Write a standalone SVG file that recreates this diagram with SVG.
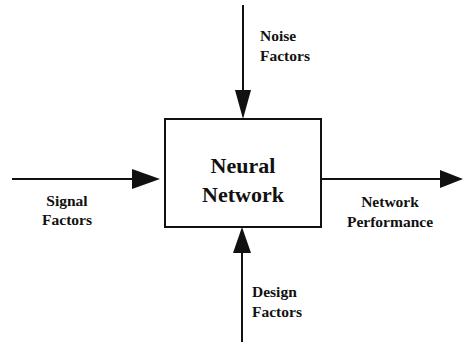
<svg xmlns="http://www.w3.org/2000/svg" width="463" height="345" viewBox="0 0 463 345">
<style>
.lbl{font-family:"Liberation Serif","Times New Roman",serif;font-weight:bold;font-size:15.5px;fill:#111}
.big{font-family:"Liberation Serif","Times New Roman",serif;font-weight:bold;font-size:22px;fill:#111}
.ln{stroke:#111;stroke-width:2;fill:none}
.ah{fill:#111}
</style>
<rect width="463" height="345" fill="#fff"/>
<g id="connectors">
<line class="ln" x1="243" y1="5" x2="243" y2="100"/>
<polygon class="ah" points="235,90 251,90 243,119"/>
<line class="ln" x1="12" y1="179" x2="140" y2="179"/>
<polygon class="ah" points="132,169 132,189 160,179"/>
<line class="ln" x1="321" y1="179" x2="445" y2="179"/>
<polygon class="ah" points="440,170 440,188 463,179"/>
<line class="ln" x1="242" y1="245" x2="242" y2="342"/>
<polygon class="ah" points="233,253 251,253 242,227"/>
</g>
<g id="neural-network">
<rect x="165" y="119" width="156" height="108" fill="none" stroke="#111" stroke-width="2"/>
<text class="big" x="243" y="173" text-anchor="middle">Neural</text>
<text class="big" x="243" y="202" text-anchor="middle">Network</text>
</g>
<g id="noise-factors">
<text class="lbl" x="260" y="41">Noise</text>
<text class="lbl" x="260" y="61">Factors</text>
</g>
<g id="signal-factors">
<text class="lbl" x="67" y="206" text-anchor="middle">Signal</text>
<text class="lbl" x="67" y="225" text-anchor="middle">Factors</text>
</g>
<g id="network-performance">
<text class="lbl" x="390" y="207" text-anchor="middle">Network</text>
<text class="lbl" x="390" y="227" text-anchor="middle">Performance</text>
</g>
<g id="design-factors">
<text class="lbl" x="252" y="297">Design</text>
<text class="lbl" x="252" y="317">Factors</text>
</g>
</svg>
